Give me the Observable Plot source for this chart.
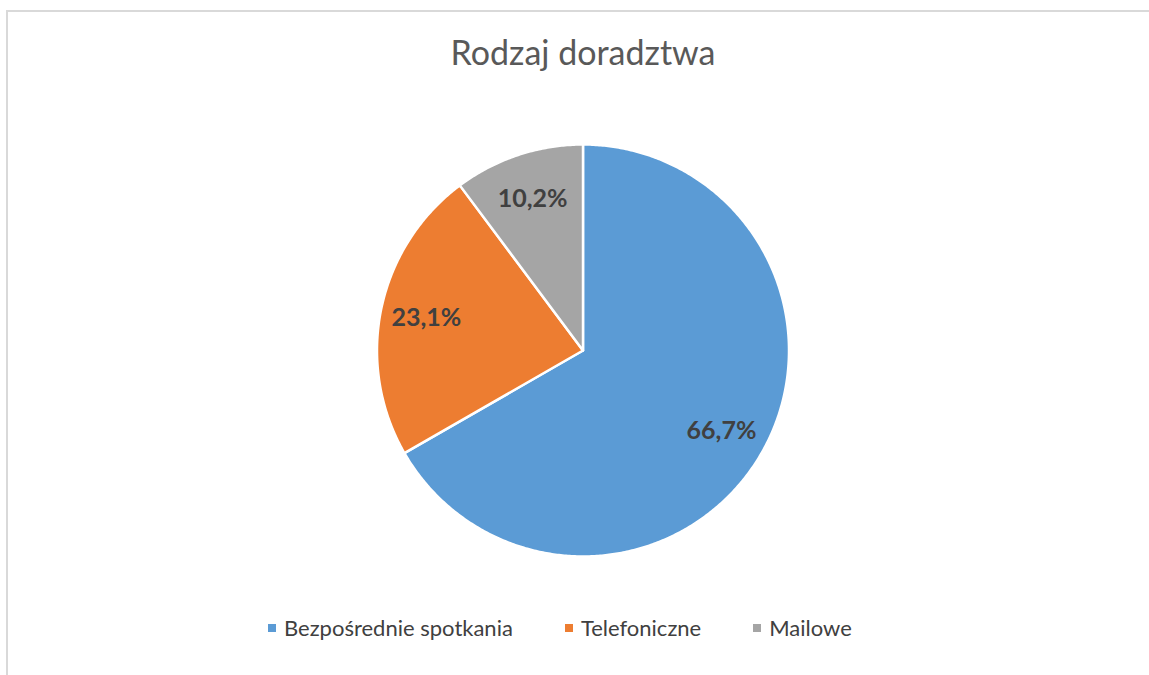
<!DOCTYPE html>
<html>
<head>
<meta charset="utf-8">
<script src="https://cdn.jsdelivr.net/npm/d3@7"></script>
<script src="https://cdn.jsdelivr.net/npm/@observablehq/plot@0.6"></script>
<style>
  html, body { margin: 0; padding: 0; background: #fff; }
  #wrap { position: relative; width: 1149px; height: 675px; overflow: hidden; font-family: Lato, "Open Sans", sans-serif; }
  #border { position: absolute; left: 6px; top: 10px; right: -10px; bottom: -10px; border-top: 2px solid #d9d9d9; border-left: 2px solid #d9d9d9; }
  #title { position: absolute; left: 0; width: 1166px; top: 31px; text-align: center; font-size: 34px; color: #595959; }
  #chart { position: absolute; left: 0; top: 0; }
  #legend { position: absolute; left: 268px; top: 614px; display: flex; align-items: center; font-size: 22px; color: #404040; }
  .item { display: flex; align-items: center; margin-right: 52px; }
  .sw { width: 8px; height: 8px; margin-right: 8px; }
</style>
</head>
<body>
<div id="wrap">
  <div id="border"></div>
  <div id="chart"></div>
  <div id="title"></div>
  <div id="legend"></div>
</div>
<script>
const titleText = "Rodzaj doradztwa";
const categories = ["Bezpośrednie spotkania", "Telefoniczne", "Mailowe"];
const shares = [66.7, 23.1, 10.2];
const labels = ["66,7%", "23,1%", "10,2%"];
const colors = ["#5B9BD5", "#ED7D31", "#A5A5A5"];

const W = 1149, H = 675;
const cx = 582.5, cy = 350, r = 206, labelR = 160;

const pie = d3.pie().sort(null).value(d => d.value).startAngle(0).endAngle(2 * Math.PI);
const arcs = pie(categories.map((name, i) => ({name, value: shares[i], label: labels[i]})));

const pt = (a, rad) => [cx + rad * Math.sin(a), cy - rad * Math.cos(a)];
const polyPoints = [];
for (const a of arcs) {
  const name = a.data.name;
  polyPoints.push({name, p: [cx, cy]});
  const n = Math.max(2, Math.ceil((a.endAngle - a.startAngle) / (Math.PI / 360)));
  for (let k = 0; k <= n; k++) {
    const ang = a.startAngle + (a.endAngle - a.startAngle) * k / n;
    polyPoints.push({name, p: pt(ang, r)});
  }
}
const labelData = arcs.map(a => {
  const mid = (a.startAngle + a.endAngle) / 2;
  return {label: a.data.label, p: pt(mid, labelR)};
});

const plot = Plot.plot({
  width: W, height: H,
  margin: 0,
  x: {domain: [0, W], range: [0, W], axis: null},
  y: {domain: [0, H], range: [0, H], axis: null},
  color: {domain: categories, range: colors},
  style: {background: "transparent"},
  marks: [
    Plot.line(polyPoints, {
      x: d => d.p[0], y: d => d.p[1], z: "name", fill: "name",
      stroke: "white", strokeWidth: 2.5, curve: "linear-closed", strokeLinejoin: "round"
    }),
    Plot.text(labelData, {
      x: d => d.p[0], y: d => d.p[1], text: "label",
      fill: "#404040", fontSize: 25, fontWeight: "bold", fontFamily: "Lato, 'Open Sans', sans-serif"
    })
  ]
});
document.getElementById("chart").appendChild(plot);
document.getElementById("title").textContent = titleText;

const legend = document.getElementById("legend");
categories.forEach((c, i) => {
  const item = document.createElement("div");
  item.className = "item";
  const sw = document.createElement("div");
  sw.className = "sw";
  sw.style.background = colors[i];
  const t = document.createElement("span");
  t.textContent = c;
  item.appendChild(sw);
  item.appendChild(t);
  legend.appendChild(item);
});
</script>
</body>
</html>
